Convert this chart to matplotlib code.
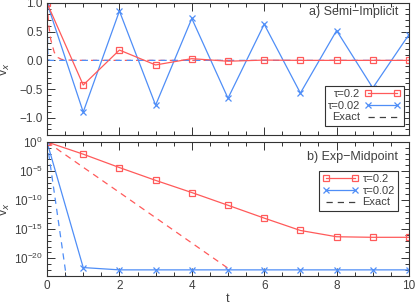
import matplotlib
matplotlib.use("Agg")
import matplotlib.pyplot as plt
from matplotlib.ticker import MultipleLocator, NullFormatter, FixedLocator

plt.rcParams['font.family'] = ['Liberation Sans', 'DejaVu Sans']

RED = '#ff5a5a'
BLUE = '#4f8ef7'
TXT = '#404040'

# step index (time t)
t_steps = [0, 1, 2, 3, 4, 5, 6, 7, 8, 9, 10]

# a) Semi-Implicit
semi_tau02 = [1.0, -0.43, 0.18, -0.08, 0.03, -0.015, 0.005, 0.0, 0.0, 0.0, 0.0]
semi_tau002 = [1.0, -0.90, 0.86, -0.78, 0.73, -0.66, 0.63, -0.57, 0.52, -0.48, 0.45]

# b) Exp-Midpoint
expm_tau02 = [1.0, 8e-3, 4e-5, 2.5e-7, 2e-9, 1.3e-11, 8e-14, 6e-16, 5e-17, 4e-17, 4e-17]
expm_tau002 = [1.0, 2.5e-22, 1e-22, 1e-22, 1e-22, 1e-22, 1e-22, 1e-22, 1e-22, 1e-22, 1e-22]

# exact solutions
exact_t_02 = [0, 0.05, 0.1, 0.2, 0.3, 0.4, 0.5, 1, 2, 3, 4, 5]
exact_v_02 = [1, 6.1e-1, 3.7e-1, 1.4e-1, 5.0e-2, 1.8e-2, 6.7e-3, 4.5e-5, 2.1e-9, 9.4e-14, 4.2e-18, 1.9e-22]
exact_t_002 = [0, 0.02, 0.05, 0.1, 0.2, 0.3, 0.4, 0.5, 0.6, 10]
exact_v_002 = [1, 1.4e-1, 6.7e-3, 4.5e-5, 2.1e-9, 9.4e-14, 4.2e-18, 1.9e-22, 8.8e-27, 1e-40]

fig = plt.figure(figsize=(4.15, 3.07), dpi=100)
ax1 = fig.add_axes([0.1133, 0.5603, 0.8722, 0.430])
ax2 = fig.add_axes([0.1133, 0.1020, 0.8722, 0.4355])

dash = (0, (5, 4))
lw = 0.9
ms = 4.6

# --- top panel
ax1.plot(exact_t_02, exact_v_02, color=RED, ls=dash, lw=lw)
ax1.plot(exact_t_002, exact_v_002, color=BLUE, ls=dash, lw=lw)
ax1.plot(t_steps, semi_tau002, color=BLUE, lw=lw, marker='x', ms=ms, mew=0.9)
ax1.plot(t_steps, semi_tau02, color=RED, lw=lw, marker='s', ms=ms, mfc='none', mew=0.9)
ax1.set_xlim(0, 10)
ax1.set_ylim(-1.3, 1.0)
ax1.yaxis.set_major_locator(MultipleLocator(0.5))
ax1.yaxis.set_minor_locator(MultipleLocator(0.1))
ax1.set_xticklabels([])
ax1.set_ylabel('v$_x$', color=TXT, fontsize=9)
ax1.yaxis.set_label_coords(-0.097, 0.5)
ax1.text(0.97, 0.93, 'a) Semi\u2212Implicit', transform=ax1.transAxes,
         ha='right', va='center', fontsize=9, color=TXT)

h1 = ax1.plot([], [], color=RED, lw=lw, marker='s', ms=ms, mfc='none', mew=0.9)[0]
h2 = ax1.plot([], [], color=BLUE, lw=lw, marker='x', ms=ms, mew=0.9)[0]
h3 = ax1.plot([], [], color=TXT, lw=lw, ls=dash)[0]
leg1 = ax1.legend([h1, h2, h3], ['\u03c4=0.2', '\u03c4=0.02', 'Exact'],
                  loc='lower right', bbox_to_anchor=(0.985, 0.07),
                  markerfirst=False, numpoints=2, fontsize=8,
                  handlelength=3.2, handletextpad=0.4, labelspacing=0.15,
                  borderpad=0.3, fancybox=False, framealpha=1,
                  edgecolor='#333333', borderaxespad=0)
leg1.get_frame().set_linewidth(0.8)
for txt in leg1.get_texts():
    txt.set_color(TXT)

# --- bottom panel
ax2.semilogy(exact_t_02, exact_v_02, color=RED, ls=dash, lw=lw)
ax2.semilogy(exact_t_002, exact_v_002, color=BLUE, ls=dash, lw=lw)
ax2.semilogy(t_steps, expm_tau002, color=BLUE, lw=lw, marker='x', ms=ms, mew=0.9)
ax2.semilogy(t_steps, expm_tau02, color=RED, lw=lw, marker='s', ms=ms, mfc='none', mew=0.9)
ax2.set_xlim(0, 10)
ax2.set_ylim(1e-23, 1.0)
ax2.yaxis.set_major_locator(FixedLocator([1e0, 1e-5, 1e-10, 1e-15, 1e-20]))
ax2.yaxis.set_minor_locator(FixedLocator([10.0 ** -k for k in range(0, 24)]))
ax2.yaxis.set_minor_formatter(NullFormatter())
ax2.set_xlabel('t', color=TXT, fontsize=9, labelpad=1)
ax2.set_ylabel('v$_x$', color=TXT, fontsize=9)
ax2.yaxis.set_label_coords(-0.097, 0.5)
ax2.text(0.97, 0.89, 'b) Exp\u2212Midpoint', transform=ax2.transAxes,
         ha='right', va='center', fontsize=9, color=TXT)

g1 = ax2.plot([], [], color=RED, lw=lw, marker='s', ms=ms, mfc='none', mew=0.9)[0]
g2 = ax2.plot([], [], color=BLUE, lw=lw, marker='x', ms=ms, mew=0.9)[0]
g3 = ax2.plot([], [], color=TXT, lw=lw, ls=dash)[0]
leg2 = ax2.legend([g1, g2, g3], ['\u03c4=0.2', '\u03c4=0.02', 'Exact'],
                  loc='upper right', bbox_to_anchor=(0.97, 0.785),
                  markerfirst=True, numpoints=2, fontsize=8,
                  handlelength=3.2, handletextpad=0.4, labelspacing=0.15,
                  borderpad=0.3, fancybox=False, framealpha=1,
                  edgecolor='#333333', borderaxespad=0)
leg2.get_frame().set_linewidth(0.8)
for txt in leg2.get_texts():
    txt.set_color(TXT)

for ax in (ax1, ax2):
    ax.xaxis.set_major_locator(MultipleLocator(2))
    ax.xaxis.set_minor_locator(MultipleLocator(0.5))
    ax.tick_params(which='both', direction='in', top=True, right=True,
                   colors='#333333', labelcolor=TXT, labelsize=8.5, width=0.7,
                   pad=3)
    ax.tick_params(which='major', length=6)
    ax.tick_params(which='minor', length=3)
    for s in ax.spines.values():
        s.set_linewidth(0.8)
        s.set_color('#333333')

fig.savefig('out.png', dpi=100)
